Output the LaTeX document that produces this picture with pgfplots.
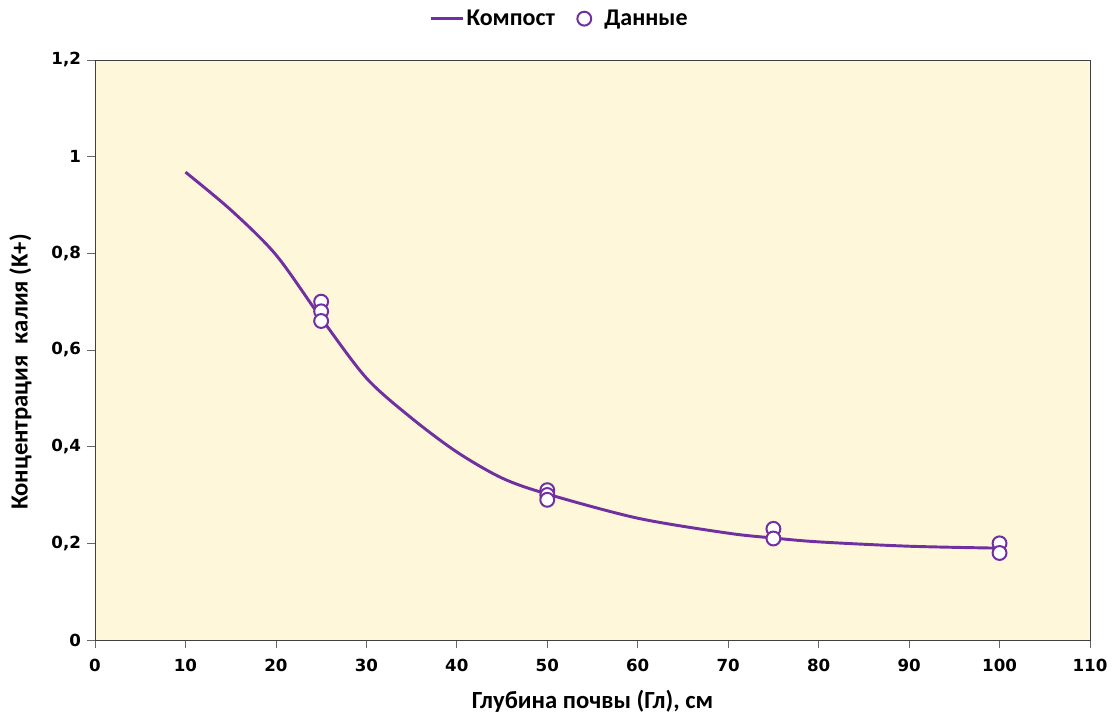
\documentclass[border=0pt]{standalone}
\usepackage{pgfplots}
\pgfplotsset{compat=1.18}
\usepackage{fontspec}
\setmainfont{Carlito}
\newfontfamily\tickfont{DejaVu Sans}
\definecolor{bgc}{HTML}{FFF7DA}
\definecolor{linec}{HTML}{7030A0}
\pgfplotsset{
  mylinelegend/.style={legend image code/.code={\draw[##1, line width=2.2pt] (0pt,0pt) -- (24pt,0pt);}},
  mymarklegend/.style={legend image code/.code={\path[draw=none] (0pt,0pt) -- (19pt,0pt); \draw[##1, only marks] plot coordinates {(6pt,0pt)};}},
}
\begin{document}
\begin{tikzpicture}[x=0.75pt,y=0.75pt]
\useasboundingbox (-95,-80) rectangle (1022,640);
\begin{axis}[
  at={(0,0)}, anchor=south west,
  scale only axis, width=746.25pt, height=435pt,
  xmin=0, xmax=110, ymin=0, ymax=1.2,
  xtick={0,10,...,110}, ytick={0,0.2,...,1.2},
  axis background/.style={fill=bgc},
  axis line style={draw=black!75, line width=0.6pt},
  tick style={draw=black!60, line width=0.6pt},
  tick align=outside, major tick length=6pt,
  xtick pos=bottom, ytick pos=left,
  /pgf/number format/assume math mode=true,
  /pgf/number format/use comma,
  yticklabel style={/pgf/number format/fixed, /pgf/number format/precision=1},
  ticklabel style={font=\tickfont\bfseries\fontsize{12.5}{14}\selectfont},
  xticklabel style={yshift=-5pt},
  yticklabel style={xshift=-1pt},
  xlabel={\bfseries Глубина почвы (Гл), см},
  ylabel={\bfseries Концентрация \ калия (K+)},
  label style={font=\fontsize{18.5}{20}\selectfont},
  xlabel style={yshift=-6.5pt},
  ylabel style={at={(ticklabel cs:0.462)}, yshift=8pt},
  legend columns=2,
  legend style={draw=none, fill=none, at={(0.467,1)}, anchor=center, yshift=31pt,
    font=\bfseries\fontsize{18}{20}\selectfont,
    /tikz/every odd column/.append style={column sep=0pt},
    /tikz/every even column/.append style={column sep=14pt}},
  legend cell align=left,
]
\addplot[color=linec, line width=2.2pt, smooth, no marks, mylinelegend] coordinates {
(10,0.968) (15,0.89) (20,0.797) (25,0.666) (30,0.542) (35,0.459) (40,0.389)
(45,0.335) (50,0.302) (60,0.252) (70,0.221) (75,0.211) (80,0.203) (90,0.194) (100,0.190)};
\addlegendentry{Компост}
\addplot[only marks, mark=*, mark size=5.2pt, mark options={fill=white, draw=linec, line width=1.5pt}, mymarklegend] coordinates {
(25,0.70) (25,0.68) (25,0.66) (50,0.31) (50,0.30) (50,0.29) (75,0.23) (75,0.21) (100,0.20) (100,0.18)};
\addlegendentry{Данные}
\end{axis}
\end{tikzpicture}
\end{document}
